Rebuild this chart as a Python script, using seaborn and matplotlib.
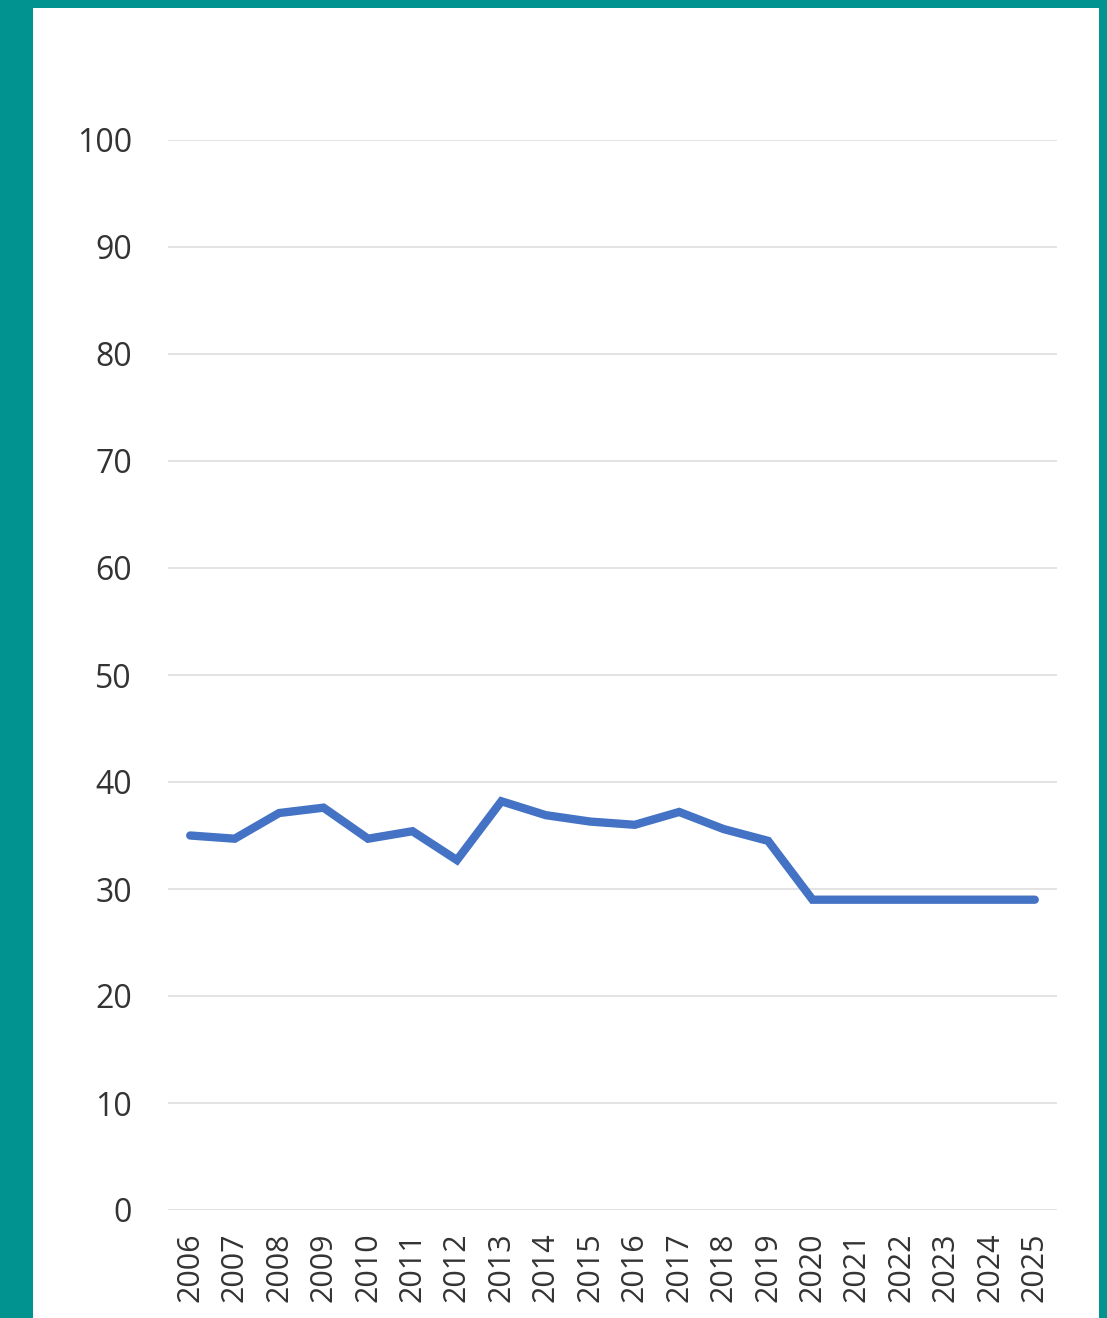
import matplotlib
matplotlib.use("Agg")
import matplotlib.pyplot as plt
import matplotlib.patches as mpatches
import seaborn as sns
import pandas as pd

years = [str(y) for y in range(2006, 2026)]
values = [35.0, 34.7, 37.1, 37.6, 34.7, 35.4, 32.7, 38.2, 36.9, 36.3,
          36.0, 37.2, 35.6, 34.5, 29.0, 29.0, 29.0, 29.0, 29.0, 29.0]
yticks = list(range(0, 101, 10))

sns.set_theme(style="white")
plt.rcParams['font.family'] = ['Open Sans', 'DejaVu Sans']

W, H = 1107, 1318
fig = plt.figure(figsize=(W / 100, H / 100), dpi=100)
fig.patch.set_facecolor('#00938F')
fig.patches.append(mpatches.Rectangle((33 / W, 0), (1099 - 33) / W, (H - 8) / H,
                                      transform=fig.transFigure, facecolor='white',
                                      edgecolor='none', zorder=-10))

ax = fig.add_axes([168 / W, (H - 1210) / H, (1057 - 168) / W, (1210 - 140) / H])
ax.set_zorder(1)
ax.set_facecolor('none')
df = pd.DataFrame({'year': years, 'value': values})
sns.lineplot(data=df, x='year', y='value', ax=ax, color='#4472C4', linewidth=6,
             sort=False, solid_capstyle='round', solid_joinstyle='miter')

ax.set_xlim(-0.5, len(years) - 0.5)
ax.set_ylim(0, 100)
ax.set_yticks(yticks)
ax.set_yticklabels([str(t) for t in yticks], fontsize=23, color='#333333')
ax.set_xticks(range(len(years)))
ax.set_xticklabels(years, rotation=90, fontsize=22, color='#333333')
ax.tick_params(axis='y', length=0, pad=26)
ax.tick_params(axis='x', length=0, pad=16)
ax.yaxis.grid(True, color='#E3E3E3', linewidth=1.4)
ax.xaxis.grid(False)
for s in ax.spines.values():
    s.set_visible(False)
ax.set_xlabel('')
ax.set_ylabel('')

fig.savefig('out.png', dpi=100, facecolor=fig.get_facecolor())
